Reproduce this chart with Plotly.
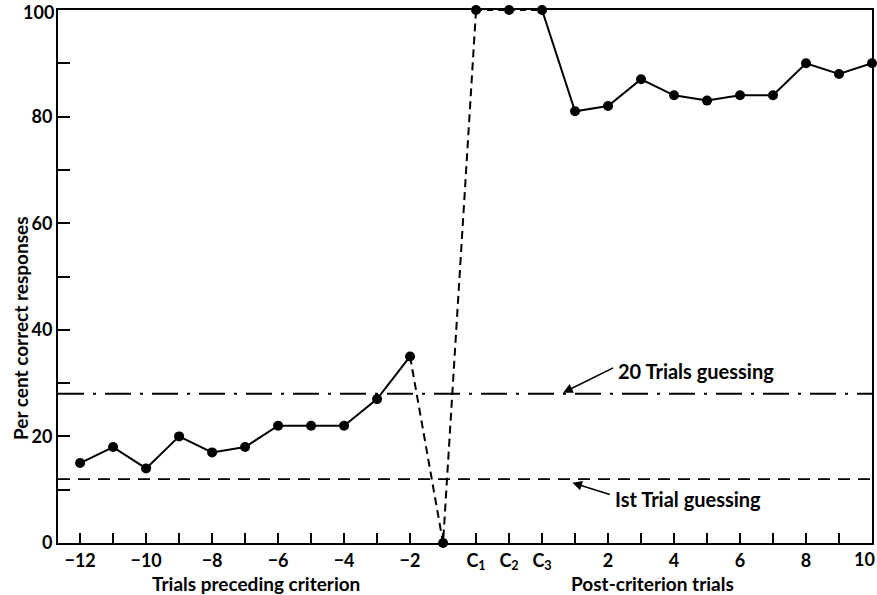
import plotly.graph_objects as go

# Data
trial_labels = ["-12", "-11", "-10", "-9", "-8", "-7", "-6", "-5", "-4", "-3", "-2", "-1",
                "C1", "C2", "C3", "1", "2", "3", "4", "5", "6", "7", "8", "9", "10"]
pct_correct = [15, 18, 14, 20, 17, 18, 22, 22, 22, 27, 35, 0,
               100, 100, 100, 81, 82, 87, 84, 83, 84, 84, 90, 88, 90]
x_label_idx = [0, 2, 4, 6, 8, 10, 12, 13, 14, 16, 18, 20, 22]
x_label_text = ["\u221212", "\u221210", "\u22128", "\u22126", "\u22124", "\u22122",
                "C<sub>1</sub>", "C<sub>2</sub>", "C<sub>3</sub>", "2", "4", "6", "8"]
last_x_label = "10"
y_tick_vals = [0, 20, 40, 60, 80]
y_tick_text = ["0", "20", "40", "60", "80"]
top_y_label = "100"
guess_20_trials = 28
guess_1st_trial = 12

pos = list(range(len(trial_labels)))

fig = go.Figure()

def seg(i0, i1, dash):
    fig.add_trace(go.Scatter(
        x=pos[i0:i1 + 1], y=pct_correct[i0:i1 + 1], mode="lines",
        line=dict(color="black", width=2, dash=dash),
        hoverinfo="skip", showlegend=False, cliponaxis=False))

seg(0, 10, "solid")
seg(10, 12, "8px,5px")
seg(12, 14, "6px,5px")
seg(14, 24, "solid")

fig.add_trace(go.Scatter(x=pos, y=pct_correct, mode="markers",
                         marker=dict(color="black", size=10),
                         showlegend=False, cliponaxis=False))

fig.add_shape(type="line", xref="paper", x0=0, x1=1, y0=guess_20_trials, y1=guess_20_trials,
              line=dict(color="black", width=1.8, dash="26px,9px,3px,9px"))
fig.add_shape(type="line", xref="paper", x0=0, x1=1, y0=guess_1st_trial, y1=guess_1st_trial,
              line=dict(color="black", width=1.8, dash="12px,8px"))

font_family = "Lato, 'Open Sans', sans-serif"
tfont = dict(family=font_family, size=20, color="black", weight="bold")
titlefont = dict(family=font_family, size=19, color="black", weight="bold")
tickfont = dict(family=font_family, size=18, color="black", weight="bold")

plot_bottom = 543
plot_h = 533

fig.add_annotation(x=14.64, y=28.2, ax=16.2, ay=33.0, axref="x", ayref="y", text="",
                   showarrow=True, arrowhead=2, arrowsize=1.2, arrowwidth=1.6, arrowcolor="black")
fig.add_annotation(x=16.25, y=32.3, text="20 Trials guessing", showarrow=False,
                   xanchor="left", yanchor="middle", font=tfont)
fig.add_annotation(x=14.92, y=11.3, ax=16.1, ay=9.0, axref="x", ayref="y", text="",
                   showarrow=True, arrowhead=2, arrowsize=1.2, arrowwidth=1.6, arrowcolor="black")
fig.add_annotation(x=16.15, y=8.3, text="Ist Trial guessing", showarrow=False,
                   xanchor="left", yanchor="middle", font=tfont)

fig.add_annotation(xref="paper", yref="paper", x=(256 - 58) / 814, y=-(583 - plot_bottom) / plot_h,
                   text="Trials preceding criterion", showarrow=False, borderpad=0,
                   xanchor="center", yanchor="middle", font=titlefont)
fig.add_annotation(xref="paper", yref="paper", x=(652 - 58) / 814, y=-(583 - plot_bottom) / plot_h,
                   text="Post-criterion trials", showarrow=False, borderpad=0,
                   xanchor="center", yanchor="middle", font=titlefont)
fig.add_annotation(xref="paper", yref="paper", x=(20 - 58) / 814, y=(plot_bottom - 328) / plot_h,
                   text="Per cent correct responses", showarrow=False, textangle=-90,
                   xanchor="center", yanchor="middle", font=titlefont)

# end labels placed as annotations so they are not dropped at the page edge
fig.add_annotation(xref="paper", yref="y", x=0, y=100, text=top_y_label, showarrow=False,
                   xanchor="right", yanchor="middle", xshift=-2, yshift=-2, font=tickfont)
fig.add_annotation(xref="paper", yref="paper", x=1, y=0, text=last_x_label, showarrow=False,
                   xanchor="right", yanchor="middle", xshift=4, yshift=-16, borderpad=0,
                   font=tickfont)

fig.update_xaxes(range=[-0.67, 24], tickmode="array", tickvals=x_label_idx, ticktext=x_label_text,
                 ticks="inside", ticklen=10, tickwidth=1.5, tickcolor="black",
                 minor=dict(tickmode="linear", tick0=0, dtick=1, ticks="inside", ticklen=10,
                            tickwidth=1.5, tickcolor="black", showgrid=False),
                 showline=True, linecolor="black", linewidth=2, mirror=True,
                 showgrid=False, zeroline=False, tickfont=tickfont)
fig.update_yaxes(range=[0, 100], tickmode="array", tickvals=y_tick_vals, ticktext=y_tick_text,
                 ticks="inside", ticklen=12, tickwidth=1.5, tickcolor="black",
                 minor=dict(tickmode="linear", tick0=0, dtick=10, ticks="inside", ticklen=12,
                            tickwidth=1.5, tickcolor="black", showgrid=False),
                 showline=True, linecolor="black", linewidth=2, mirror=True,
                 showgrid=False, zeroline=False, tickfont=tickfont)

fig.update_layout(width=877, height=595,
                  margin=dict(l=58, r=5, t=10, b=595 - plot_bottom, autoexpand=False),
                  plot_bgcolor="white", paper_bgcolor="white", showlegend=False)

fig.write_html("out.html", config={"displayModeBar": False},
               post_script="document.body.style.margin='0';document.body.style.overflow='hidden';")
